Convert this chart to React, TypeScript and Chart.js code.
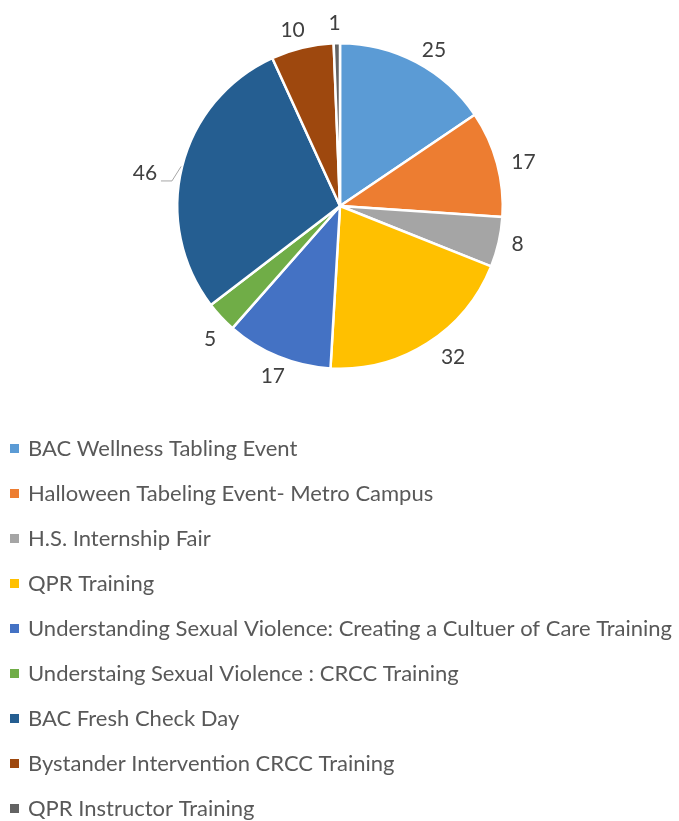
import React, { useEffect, useRef } from "react";
import { Chart, registerables } from "chart.js";

Chart.register(...registerables);

const categories = [
  "BAC Wellness Tabling Event",
  "Halloween Tabeling Event- Metro Campus",
  "H.S. Internship Fair",
  "QPR Training",
  "Understanding Sexual Violence: Creating a Cultuer of Care Training",
  "Understaing Sexual Violence : CRCC Training",
  "BAC Fresh Check Day",
  "Bystander Intervention CRCC Training",
  "QPR Instructor Training",
];
const values = [25, 17, 8, 32, 17, 5, 46, 10, 1];
const colors = [
  "#5B9BD5",
  "#ED7D31",
  "#A5A5A5",
  "#FFC000",
  "#4472C4",
  "#70AD47",
  "#255E91",
  "#9E480E",
  "#636363",
];

const FONT = "Lato, 'Open Sans', sans-serif";

// label placement (best-fit style): angle shift in degrees, distance beyond the rim
const labelShiftDeg = [3.2, 1.6, -0.6, -4.4, -0.8, -2.6, -4.5, -1.7, -0.6];
const labelGap = [19, 26, 19, 26, 20, 23, 35, 19, 20];

const labelPlugin = {
  id: "outsideLabels",
  afterDraw(chart: any) {
    const ctx = chart.ctx;
    const meta = chart.getDatasetMeta(0);
    ctx.save();
    ctx.font = `21px ${FONT}`;
    ctx.fillStyle = "#404040";
    ctx.textAlign = "center";
    ctx.textBaseline = "middle";
    meta.data.forEach((arc: any, i: number) => {
      const { x, y, startAngle, endAngle, outerRadius } = arc.getProps(
        ["x", "y", "startAngle", "endAngle", "outerRadius"],
        true
      );
      const mid = (startAngle + endAngle) / 2;
      const a = mid + (labelShiftDeg[i] * Math.PI) / 180;
      const r = outerRadius + labelGap[i];
      const tx = x + Math.cos(a) * r;
      const ty = y + Math.sin(a) * r;
      if (labelGap[i] > 30) {
        const ex = x + Math.cos(mid) * (outerRadius + 1);
        const ey = y + Math.sin(mid) * (outerRadius + 1);
        ctx.strokeStyle = "#A6A6A6";
        ctx.lineWidth = 1;
        ctx.beginPath();
        ctx.moveTo(tx + 16, ty + 7.5);
        ctx.lineTo(tx + 27, ty + 7.5);
        ctx.lineTo(ex, ey);
        ctx.stroke();
      }
      ctx.fillText(String(values[i]), tx, ty);
    });
    ctx.restore();
  },
};

const legendPlugin = {
  id: "listLegend",
  afterDraw(chart: any) {
    const ctx = chart.ctx;
    ctx.save();
    ctx.font = `22px ${FONT}`;
    ctx.textAlign = "left";
    ctx.textBaseline = "middle";
    categories.forEach((c, i) => {
      const cy = 448 + i * 45;
      ctx.fillStyle = colors[i];
      ctx.fillRect(10, cy - 4, 9, 9);
      ctx.fillStyle = "#595959";
      ctx.fillText(c, 28, cy + 1);
    });
    ctx.restore();
  },
};

export default function App() {
  const ref = useRef<HTMLCanvasElement>(null);
  useEffect(() => {
    document.body.style.margin = "0";
    const chart = new Chart(ref.current!, {
      type: "pie",
      data: {
        labels: categories,
        datasets: [
          {
            data: values,
            backgroundColor: colors,
            borderColor: "#FFFFFF",
            borderWidth: 2.5,
          },
        ],
      },
      options: {
        animation: false,
        responsive: false,
        maintainAspectRatio: false,
        layout: { padding: { left: 176, right: 175, top: 42, bottom: 451 } },
        plugins: {
          legend: { display: false },
          tooltip: { enabled: false },
        },
      },
      plugins: [labelPlugin, legendPlugin],
    });
    return () => chart.destroy();
  }, []);
  return (
    <div style={{ width: 679, height: 821, background: "#fff" }}>
      <canvas ref={ref} width={679} height={821} style={{ display: "block" }} />
    </div>
  );
}
